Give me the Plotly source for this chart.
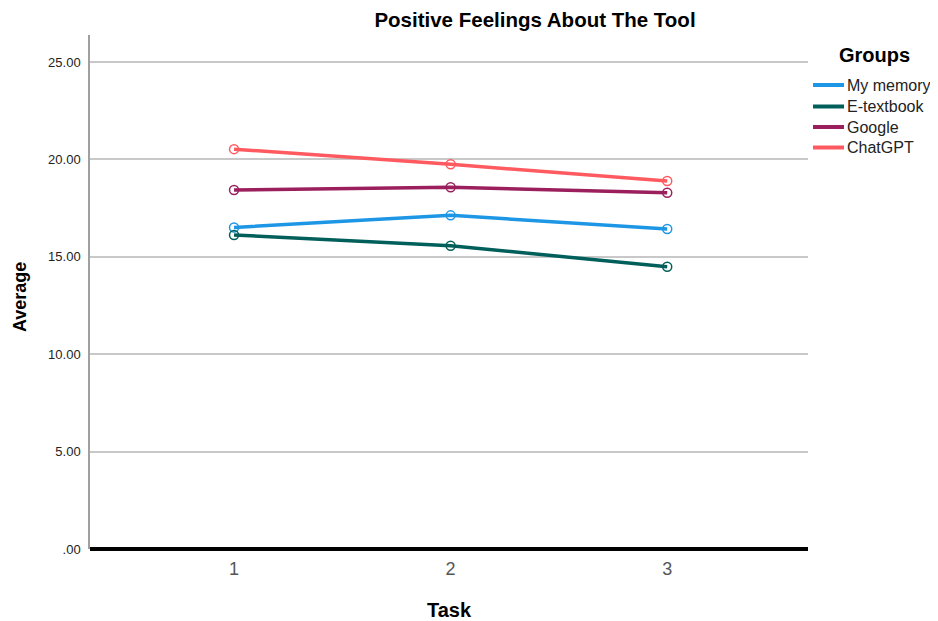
import plotly.graph_objects as go

tasks = [1, 2, 3]
groups = ["My memory", "E-textbook", "Google", "ChatGPT"]
my_memory = [16.51, 17.13, 16.43]
e_textbook = [16.12, 15.57, 14.49]
google = [18.43, 18.57, 18.29]
chatgpt = [20.53, 19.75, 18.89]
colors = ["#1E96E6", "#005F5A", "#9A1F5C", "#FF5A60"]
y_tickvals = [0, 5, 10, 15, 20, 25]
y_ticktext = [".00", "5.00", "10.00", "15.00", "20.00", "25.00"]

series = [my_memory, e_textbook, google, chatgpt]

# page body adds an 8px margin; figure is sized/offset to compensate
OFF = 8
W, H = 938 - OFF, 621 - OFF
L, R, T, B = 90 - OFF, 808 - OFF, 35 - OFF, 549 - OFF


def px(xp):
    return (xp - OFF - L) / (R - L)


def py(yp):
    return (B - (yp - OFF)) / (B - T)


fig = go.Figure()
for name, vals, col in zip(groups, series, colors):
    fig.add_trace(go.Scatter(
        x=tasks, y=vals, mode="lines+markers", name=name, showlegend=False,
        line=dict(color=col, width=3.5),
        marker=dict(symbol="circle-open", size=9, color=col, line=dict(width=1.5)),
    ))

font = "Liberation Sans, Arial, sans-serif"

shapes = [dict(type="line", xref="paper", yref="paper", x0=0, x1=1, y0=0, y1=0,
               line=dict(color="black", width=4), layer="above")]
annotations = [
    dict(text="<b>Task</b>", xref="paper", yref="paper", x=0.5, y=py(610),
         xanchor="center", yanchor="middle", showarrow=False,
         font=dict(size=20, color="#000000")),
    dict(text="<b>Average</b>", xref="paper", yref="paper", x=px(20), y=py(297),
         xanchor="center", yanchor="middle", textangle=-90, showarrow=False,
         font=dict(size=18, color="#000000")),
    dict(text="<b>Groups</b>", xref="paper", yref="paper", x=px(874), y=py(55),
         xanchor="center", yanchor="middle", showarrow=False,
         font=dict(size=20, color="#000000")),
]
item_y = [85, 106.5, 127, 147.5]
for name, col, yy in zip(groups, colors, item_y):
    shapes.append(dict(type="line", xref="paper", yref="paper",
                       x0=px(813), x1=px(844), y0=py(yy), y1=py(yy),
                       line=dict(color=col, width=4)))
    annotations.append(dict(text=name, xref="paper", yref="paper", x=px(845), y=py(yy),
                            xanchor="left", yanchor="middle", showarrow=False,
                            font=dict(size=16, color="#222222")))

fig.update_layout(
    width=W, height=H,
    margin=dict(l=L, r=W - R, t=T, b=H - B, autoexpand=False),
    paper_bgcolor="white", plot_bgcolor="white",
    font=dict(family=font, color="#000000"),
    showlegend=False,
    title=dict(text="<b>Positive Feelings About The Tool</b>", xref="paper", x=px(535),
               xanchor="center", yref="container", y=1 - (20 - OFF) / H, yanchor="middle",
               font=dict(size=20.5)),
    xaxis=dict(range=[0.335, 3.65], tickvals=tasks, ticktext=[str(t) for t in tasks],
               showgrid=False, zeroline=False, showline=False, ticks="",
               automargin=False, ticklabelstandoff=7,
               tickfont=dict(size=18, color="#555555")),
    yaxis=dict(range=[0, 26.39], tickvals=y_tickvals, ticktext=y_ticktext,
               showgrid=True, gridcolor="#C8C8C8", gridwidth=1.5, zeroline=False,
               showline=True, linecolor="#A0A0A0", linewidth=1.5, ticks="",
               automargin=False, ticklabelstandoff=5,
               tickfont=dict(size=13, color="#222222")),
    shapes=shapes,
    annotations=annotations,
)

fig.write_html("out.html")
